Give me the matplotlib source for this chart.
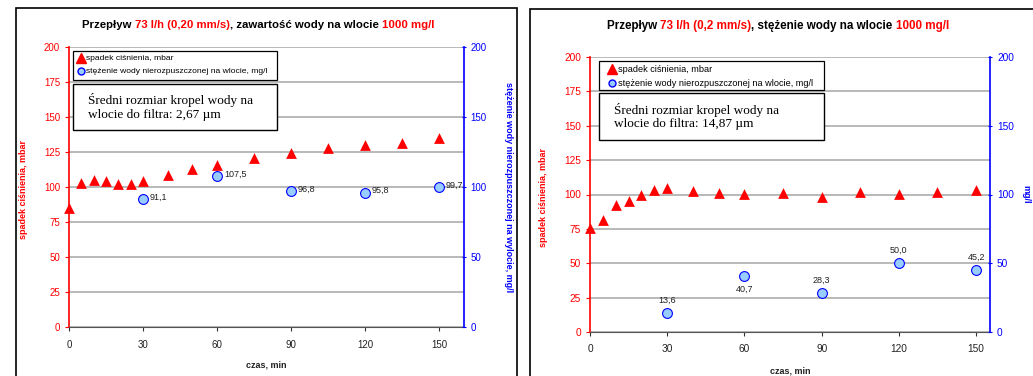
import numpy as np
import matplotlib
matplotlib.use("Agg")
import matplotlib.pyplot as plt
from matplotlib.patches import Rectangle
from matplotlib.lines import Line2D

plt.rcParams['font.family'] = ['Liberation Sans', 'DejaVu Sans']

# ---- data: left chart (2,67 um) ----
t_dp_L = [0, 5, 10, 15, 20, 25, 30, 40, 50, 60, 75, 90, 105, 120, 135, 150]
dp_L = [85, 103, 105, 104, 102, 102, 104, 108.6, 112.5, 116, 120.5, 124.5, 127.6, 130, 131.6, 134.8]
t_c_L = [30, 60, 90, 120, 150]
c_L = [91.1, 107.5, 96.8, 95.8, 99.7]
lab_L = ["91,1", "107,5", "96,8", "95,8", "99,7"]

# ---- data: right chart (14,87 um) ----
t_dp_R = [0, 5, 10, 15, 20, 25, 30, 40, 50, 60, 75, 90, 105, 120, 135, 150]
dp_R = [76, 81.5, 92.5, 95.5, 99.5, 103.5, 104.8, 102.4, 101.2, 100.7, 101.2, 98.3, 101.7, 100.2, 101.7, 103]
t_c_R = [30, 60, 90, 120, 150]
c_R = [13.6, 40.7, 28.3, 50.0, 45.2]
lab_R = ["13,6", "40,7", "28,3", "50,0", "45,2"]
lab_pos_R = ["above", "below", "above", "above", "above"]

x_ticks = [0, 30, 60, 90, 120, 150]
y_ticks = [0, 25, 50, 75, 100, 125, 150, 175, 200]
y2_ticks = [0, 50, 100, 150, 200]

RED = "#ff0000"
BLUE = "#0000ff"
LBLUE = "#99ccff"

W, H = 1033, 376
fig = plt.figure(figsize=(W / 100, H / 100), dpi=100)


def px(x0, y0, x1, y1):
    # pixel box -> figure fraction [l, b, w, h]
    return [x0 / W, 1 - y1 / H, (x1 - x0) / W, (y1 - y0) / H]


def multicolor_title(x_center, y_px, pieces, size):
    r = fig.canvas.get_renderer()
    texts = []
    for s, c in pieces:
        t = fig.text(0, 1 - y_px / H, s, color=c, fontsize=size, fontweight='bold',
                     ha='left', va='center')
        texts.append(t)
    widths = [t.get_window_extent(r).width for t in texts]
    total = sum(widths)
    x = x_center - total / 2
    for t, w in zip(texts, widths):
        t.set_x(x / W)
        x += w


def make_chart(box, xmax, t_dp, dp, t_c, c, labels, positions, right_label, note,
               right_label_x, ylab_x, xlab_y, leg_box, note_box, fs, leg_fs, leg_dx):
    x0, y0, x1, y1 = box
    ax = fig.add_axes(px(*box))
    ax.set_xlim(0, xmax)
    ax.set_ylim(0, 200)
    ax.set_yticks(y_ticks)
    ax.set_xticks(x_ticks)
    ax.grid(axis='y', color='#b3b3b3', lw=1.3)
    ax.set_axisbelow(True)
    ax.spines['top'].set_visible(False)
    ax.spines['right'].set_visible(False)
    ax.spines['left'].set_color(RED)
    ax.spines['left'].set_linewidth(1.2)
    ax.spines['bottom'].set_color('#555555')
    ax.tick_params(axis='y', colors=RED, labelsize=fs, length=3, width=0.8)
    ax.tick_params(axis='x', colors='#333333', labelsize=fs, length=3, width=0.8, pad=6)
    for lbl in ax.get_xticklabels():
        lbl.set_color('#222222')
    ax.set_ylabel("spadek ciśnienia, mbar", color=RED, fontsize=6.5, fontweight='bold',
                  va='center')
    ax.yaxis.set_label_coords((ylab_x - x0) / (x1 - x0), 0.49)
    ax.set_xlabel("czas, min", color='#222222', fontsize=6.5, fontweight='bold', va='center')
    ax.xaxis.set_label_coords(0.5, -(xlab_y - y1) / (y1 - y0))

    ax2 = ax.twinx()
    ax2.set_ylim(0, 200)
    ax2.set_yticks(y2_ticks)
    for s in ['top', 'left', 'bottom']:
        ax2.spines[s].set_visible(False)
    ax2.spines['right'].set_color(BLUE)
    ax2.spines['right'].set_linewidth(1.2)
    ax2.tick_params(axis='y', colors=BLUE, labelsize=fs, length=3, width=0.8, direction='inout')

    ax.scatter(t_dp, dp, marker='^', s=60, color=RED, zorder=4, clip_on=False, lw=0)
    ax2.scatter(t_c, c, marker='o', s=50, facecolor=LBLUE, edgecolor=BLUE, lw=0.8, zorder=4,
                clip_on=False)
    for xi, yi, lb, pos in zip(t_c, c, labels, positions):
        if pos == "right":
            ax2.annotate(lb, (xi, yi), xytext=(5, 1.5), textcoords='offset points',
                         fontsize=6.5, color='#222222', ha='left', va='center')
        elif pos == "above":
            ax2.annotate(lb, (xi, yi), xytext=(0, 6), textcoords='offset points',
                         fontsize=6.5, color='#222222', ha='center', va='bottom')
        else:
            ax2.annotate(lb, (xi, yi), xytext=(0, -6), textcoords='offset points',
                         fontsize=6.5, color='#222222', ha='center', va='top')

    fig.text(right_label_x / W, 1 - (y0 + y1) / 2 / H, right_label, color=BLUE,
             fontsize=6.5, fontweight='bold', rotation=-90, ha='center', va='center')

    # legend box
    lx0, ly0, lx1, ly1 = leg_box
    fig.patches.append(Rectangle((lx0 / W, 1 - ly1 / H), (lx1 - lx0) / W, (ly1 - ly0) / H,
                                 transform=fig.transFigure, fc='white', ec='black', lw=0.9,
                                 zorder=6))
    handles = [Line2D([], [], marker='^', ls='none', color=RED, ms=6.5),
               Line2D([], [], marker='o', ls='none', markerfacecolor=LBLUE,
                      markeredgecolor=BLUE, ms=5)]
    leg = fig.legend(handles, ["spadek ciśnienia, mbar",
                               "stężenie wody nierozpuszczonej na wlocie, mg/l"],
                     loc='upper left', bbox_to_anchor=((lx0 + leg_dx) / W, 1 - (ly0 + 1) / H),
                     fontsize=leg_fs, frameon=False,
                     handletextpad=0.1, handlelength=1.0, borderpad=0.3, labelspacing=0.6,
                     borderaxespad=0)
    leg.set_zorder(7)

    # note box
    nx0, ny0, nx1, ny1 = note_box
    fig.patches.append(Rectangle((nx0 / W, 1 - ny1 / H), (nx1 - nx0) / W, (ny1 - ny0) / H,
                                 transform=fig.transFigure, fc='white', ec='black', lw=1.0,
                                 zorder=6))
    fig.text((nx0 + 15) / W, 1 - (ny0 + ny1) / 2 / H, note, fontsize=9.5,
             family=['Liberation Serif'], va='center', ha='left', zorder=7, linespacing=1.15)
    return ax


make_chart((69, 47, 463.7, 327), 160, t_dp_L, dp_L, t_c_L, c_L, lab_L,
           ["right"] * 5, "stężenie wody nierozpuszczonej na wylocie, mg/l",
           "Średni rozmiar kropel wody na\nwlocie do filtra: 2,67 µm", 509, 24, 365,
           (73, 51, 277, 80), (73, 84, 277, 130), 7, 6.1, 1)
make_chart((590, 57, 990, 332), 155.4, t_dp_R, dp_R, t_c_R, c_R, lab_R,
           lab_pos_R, "mg/l", "Średni rozmiar kropel wody na\nwlocie do filtra: 14,87 µm",
           1026, 543, 371, (599, 61, 824, 90), (599, 93, 824, 140), 7.3, 6.6, 6)

# chart frames
fig.patches.append(Rectangle((16 / W, -0.05), (517 - 16) / W, 1.05 - 8 / H,
                             transform=fig.transFigure, fill=False, ec='black', lw=1.2))
fig.patches.append(Rectangle((530 / W, -0.05), 0.6, 1.05 - 9 / H,
                             transform=fig.transFigure, fill=False, ec='black', lw=1.2))

multicolor_title(258, 25, [("Przepływ ", 'black'), ("73 l/h (0,20 mm/s)", RED),
                           (", zawartość wody na wlocie ", 'black'), ("1000 mg/l", RED)], 8.2)
multicolor_title(778, 26, [("Przepływ ", 'black'), ("73 l/h (0,2 mm/s)", RED),
                           (", stężenie wody na wlocie ", 'black'), ("1000 mg/l", RED)], 8.4)

fig.savefig("out.png", dpi=100)
